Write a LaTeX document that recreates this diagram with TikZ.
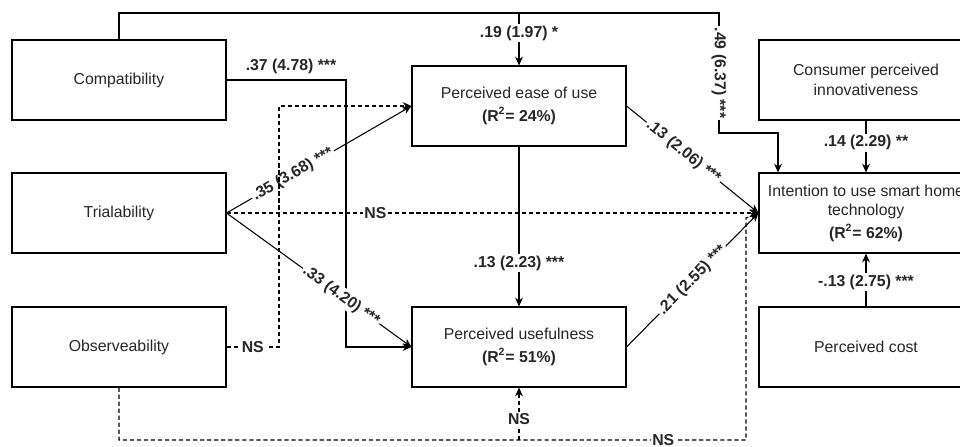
\documentclass[tikz,border=0pt]{standalone}
\usepackage{fontspec}
\setmainfont{Liberation Sans}
\usetikzlibrary{arrows.meta}

\begin{document}
\begin{tikzpicture}[x=0.2mm,y=-0.2mm,line width=0.6pt,>={Stealth[length=5pt,width=4.4pt]},
    box/.style={draw,minimum width=42.8mm,minimum height=16mm,align=center,inner sep=2pt,
        font=\fontsize{9}{11}\selectfont,text=black!85},
    lbl/.style={fill=white,inner sep=1pt,font=\fontsize{9}{11}\selectfont\bfseries,text=black!85},
    ns/.style={dash pattern=on 2.4pt off 1.6pt}]
        \useasboundingbox(0,0)rectangle(960,446);
        \clip(0,0)rectangle(960,446);

        % constructs
        \node[box](comp)at(119,80){Compatibility};
        \node[box](tri)at(119,213){Trialability};
        \node[box](obs)at(119,347){Observeability};
        \node[box](peou)at(519,106){Perceived ease of use\\[2pt]\textbf{(R\textsuperscript{2}= 24\%)}};
        \node[box](pu)at(519,347){Perceived usefulness\\[2pt]\textbf{(R\textsuperscript{2}= 51\%)}};
        \node[box](cpi)at(866,80){Consumer perceived\\innovativeness};
        \node[box](int)at(866,213){Intention to use smart home\\technology\\[2pt]\textbf{(R\textsuperscript{2}= 62\%)}};
        \node[box](cost)at(866,347){Perceived cost};

        % helper points
        \coordinate(jtop)at(519,13);
        \coordinate(jbot)at(519,440);
        \coordinate(e49)at([xshift=-17.6mm]int.north);

        % compatibility paths
        \draw[->](comp.north)|-(719,13)--(719,133)node[lbl,midway,rotate=-90](l49){.49 (6.37) ***}-|(e49);
        \draw[->](jtop)--(peou.north)node[lbl,pos=0.38](l19){.19 (1.97) *};
        \draw[->](comp.east)-|(346,347)node[above,pos=0.27,font=\fontsize{9}{11}\selectfont\bfseries,text=black!85](l37){.37 (4.78) ***}--(pu.west);

        % trialability paths
        \draw[->](tri.east)--(peou.west)node[lbl,sloped,pos=0.36](l35){.35 (3.68) ***};
        \draw[->,ns](tri.east)--(int.west)node[lbl,pos=0.28](ns1){NS};
        \draw[->](tri.east)--(pu.west)node[lbl,sloped,pos=0.62](l33){.33 (4.20) ***};

        % observeability paths
        \draw[->,ns](obs.east)-|(279,106)node[lbl,pos=0.25](ns2){NS}--(peou.west);
        \draw[->,ns](obs.south)|-(746,440)node[lbl,pos=0.934](ns3){NS}--(746,218)--(int.west);
        \draw[->,ns](jbot)--(pu.south)node[lbl,pos=0.4](ns4){NS};

        % mediators and outcome
        \draw[->](peou.south)--(pu.north)node[lbl,pos=0.73](l13b){.13 (2.23) ***};
        \draw[->](peou.east)--(int.west)node[lbl,sloped,pos=0.43](l13){.13 (2.06) ***};
        \draw[->](pu.east)--(int.west)node[lbl,sloped,pos=0.5](l21){.21 (2.55) ***};
        \draw[->](cpi.south)--(int.north)node[lbl,pos=0.43](l14){.14 (2.29) **};
        \draw[->](cost.north)--(int.south)node[lbl,pos=0.46](l13c){-.13 (2.75) ***};
    \end{tikzpicture}
\end{document}
